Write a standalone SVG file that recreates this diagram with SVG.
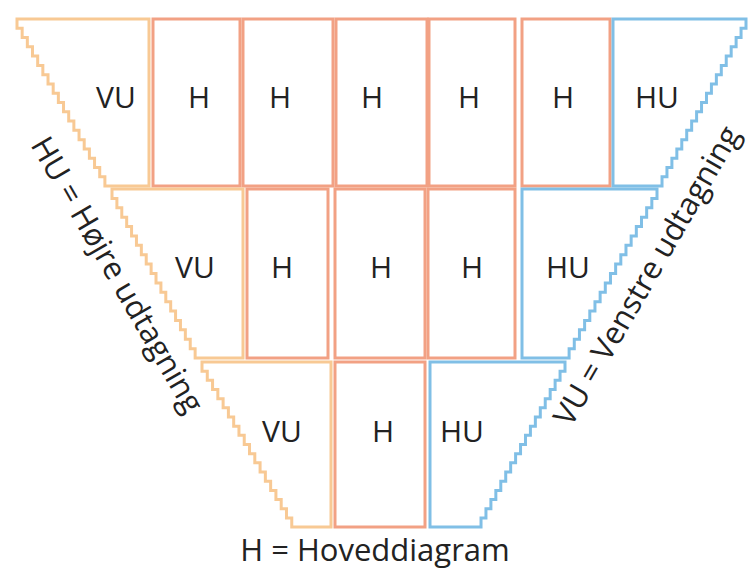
<svg xmlns="http://www.w3.org/2000/svg" width="750" height="571" viewBox="0 0 750 571">
<style>
.vu{fill:#fff;stroke:#F8C994;stroke-width:3;stroke-linejoin:miter}
.h{fill:#fff;stroke:#F2A184;stroke-width:3}
.hu{fill:#fff;stroke:#80BFE6;stroke-width:3}
.lbl{font-family:"Open Sans","Liberation Sans",sans-serif;font-size:30px;fill:#222;text-anchor:middle}
.side{font-family:"Open Sans","Liberation Sans",sans-serif;font-size:31px;fill:#222;text-anchor:middle}
</style>
<rect width="750" height="571" fill="#fff"/>
<g id="connectors"></g>
<!-- Row 1 -->
<g id="r1-vu"><path class="vu" d="M17,19 v9.28h5.17v9.28h5.17v9.28h5.17v9.28h5.17v9.28h5.17v9.28h5.17v9.28h5.17v9.28h5.17v9.28h5.17v9.28h5.17v9.28h5.17v9.28h5.17v9.28h5.17v9.28h5.17v9.28h5.17v9.28h5.17v9.28h5.17v9.28h5.17 H149 V19 Z"/><text class="lbl" x="116" y="108">VU</text></g>
<g id="r1-h1"><rect class="h" x="153" y="19" width="87" height="167"/><text class="lbl" x="199" y="108">H</text></g>
<g id="r1-h2"><rect class="h" x="243" y="19" width="90" height="167"/><text class="lbl" x="280" y="108">H</text></g>
<g id="r1-h3"><rect class="h" x="336" y="19" width="91" height="167"/><text class="lbl" x="372" y="108">H</text></g>
<g id="r1-h4"><rect class="h" x="429" y="19" width="86" height="167"/><text class="lbl" x="469" y="108">H</text></g>
<g id="r1-h5"><rect class="h" x="522" y="19" width="88" height="167"/><text class="lbl" x="563" y="108">H</text></g>
<g id="r1-hu"><path class="hu" d="M613,19 H746 v9.28h-4.94v9.28h-4.94v9.28h-4.94v9.28h-4.94v9.28h-4.94v9.28h-4.94v9.28h-4.94v9.28h-4.94v9.28h-4.94v9.28h-4.94v9.28h-4.94v9.28h-4.94v9.28h-4.94v9.28h-4.94v9.28h-4.94v9.28h-4.94v9.28h-4.94v9.28h-4.94 H613 Z"/><text class="lbl" x="657" y="108">HU</text></g>
<!-- Row 2 -->
<g id="r2-vu"><path class="vu" d="M112,189 v9.39h4.89v9.39h4.89v9.39h4.89v9.39h4.89v9.39h4.89v9.39h4.89v9.39h4.89v9.39h4.89v9.39h4.89v9.39h4.89v9.39h4.89v9.39h4.89v9.39h4.89v9.39h4.89v9.39h4.89v9.39h4.89v9.39h4.89v9.39h4.89 H243 V189 Z"/><text class="lbl" x="195" y="278">VU</text></g>
<g id="r2-h1"><rect class="h" x="247" y="189" width="81" height="169"/><text class="lbl" x="282" y="278">H</text></g>
<g id="r2-h2"><rect class="h" x="335" y="189" width="90" height="169"/><text class="lbl" x="381" y="278">H</text></g>
<g id="r2-h3"><rect class="h" x="428" y="189" width="87" height="169"/><text class="lbl" x="472" y="278">H</text></g>
<g id="r2-hu"><path class="hu" d="M522,189 H657 v9.39h-5.17v9.39h-5.17v9.39h-5.17v9.39h-5.17v9.39h-5.17v9.39h-5.17v9.39h-5.17v9.39h-5.17v9.39h-5.17v9.39h-5.17v9.39h-5.17v9.39h-5.17v9.39h-5.17v9.39h-5.17v9.39h-5.17v9.39h-5.17v9.39h-5.17v9.39h-5.17 H522 Z"/><text class="lbl" x="568" y="278">HU</text></g>
<!-- Row 3 -->
<g id="r3-vu"><path class="vu" d="M202,362 v9.17h5.28v9.17h5.28v9.17h5.28v9.17h5.28v9.17h5.28v9.17h5.28v9.17h5.28v9.17h5.28v9.17h5.28v9.17h5.28v9.17h5.28v9.17h5.28v9.17h5.28v9.17h5.28v9.17h5.28v9.17h5.28v9.17h5.28v9.17h5.28 H331 V362 Z"/><text class="lbl" x="282" y="442">VU</text></g>
<g id="r3-h"><rect class="h" x="335" y="362" width="90" height="165"/><text class="lbl" x="383" y="442">H</text></g>
<g id="r3-hu"><path class="hu" d="M430,362 H565 v9.17h-4.94v9.17h-4.94v9.17h-4.94v9.17h-4.94v9.17h-4.94v9.17h-4.94v9.17h-4.94v9.17h-4.94v9.17h-4.94v9.17h-4.94v9.17h-4.94v9.17h-4.94v9.17h-4.94v9.17h-4.94v9.17h-4.94v9.17h-4.94v9.17h-4.94v9.17h-4.94 H430 Z"/><text class="lbl" x="462" y="442">HU</text></g>
<!-- Legends -->
<g id="legend-left"><text class="side" transform="translate(108,280) rotate(60)">HU = Højre udtagning</text></g>
<g id="legend-right"><text class="side" transform="translate(656,281) rotate(-60)">VU = Venstre udtagning</text></g>
<g id="legend-bottom"><text class="lbl" style="font-size:31px" x="375" y="561">H = Hoveddiagram</text></g>
</svg>
